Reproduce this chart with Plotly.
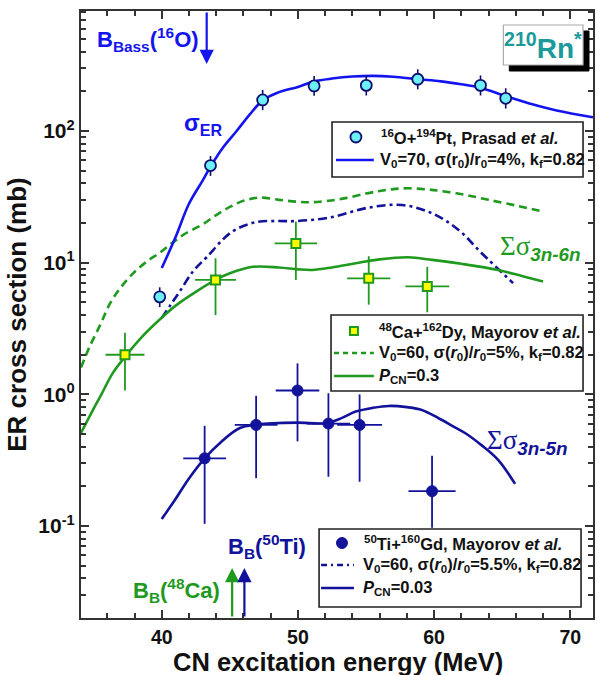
import plotly.graph_objects as go

# ---------------- data ----------------
# 16O+194Pt, Prasad et al. (ER cross section, mb)
prasad_E = [39.85, 43.58, 47.41, 51.19, 55.02, 58.8, 63.41, 65.26]
prasad_s = [5.5, 54.6, 172, 220, 222, 247, 222, 177]
prasad_ep = [1.0, 10, 33, 42, 42, 47, 42, 34]
prasad_em = [0.9, 9, 28, 35, 36, 40, 36, 29]

# 48Ca+162Dy, Mayorov et al.
ca_E = [37.3, 43.95, 49.85, 55.2, 59.5]
ca_s = [2.0, 7.4, 14.0, 7.6, 6.6]
ca_ex = [1.43, 1.5, 1.56, 1.59, 1.61]
ca_ep = [0.94, 3.4, 6.5, 3.6, 2.7]
ca_em = [0.93, 3.4, 6.6, 2.8, 2.4]

# 50Ti+160Gd, Mayorov et al.
ti_E = [43.15, 46.93, 49.97, 52.24, 54.53, 59.85]
ti_s = [0.327, 0.586, 1.07, 0.60, 0.586, 0.184]
ti_ex = [1.57, 1.57, 1.6, 1.6, 1.65, 1.73]
ti_ep = [0.25, 0.39, 0.65, 0.42, 0.414, 0.158]
ti_em = [0.223, 0.355, 0.63, 0.363, 0.369, 0.087]

# calculated curves
er_E = [40, 41, 42, 43, 43.6, 44.5, 45.5, 46.5, 47.4, 48.5, 50, 51.2, 52.5, 54, 55.5,
        57, 58.8, 60.5, 62, 63.4, 65.3, 67, 69, 71.67]
er_s = [9.1, 15.5, 28, 42, 54, 75, 100, 135, 170, 195, 216, 238, 250, 259, 262,
        258, 247, 238, 226, 213, 183, 162, 143, 127]

ca_v_E = [34.07, 34.7, 35.5, 36.2, 37.0, 37.9, 38.9, 39.85, 40.8, 41.8, 43, 44, 45, 46,
          47.2, 48.6, 50, 51, 52.2, 53.5, 55, 56, 57, 58.1, 59.5, 60.5, 62.3, 64, 66, 68]
ca_v_s = [1.6, 2.3, 3.4, 4.9, 6.5, 8.3, 10.2, 11.9, 14.2, 16.8, 19.5, 23, 26.5, 29.5,
          31.2, 30, 29, 28.8, 29.5, 30.9, 33.5, 35, 36.2, 36.7, 36, 35, 32.7, 30, 27.2, 24.4]

ti_v_E = [40, 40.6, 41.3, 42.3, 43.3, 45.1, 46.9, 48.5, 49.85, 52.3, 55.2, 57.65,
          59.85, 61.8, 63.5, 65.8]
ti_v_s = [3.8, 4.7, 6.0, 8.6, 11.0, 17.0, 20.3, 20.7, 20.7, 22, 26.2, 27.4,
          23.7, 17.7, 11.8, 7.0]

ca_p_E = [34.07, 35, 35.5, 36.4, 37.3, 38.5, 39.85, 41, 42.5, 43.95, 45, 46.7, 48.6, 50,
          51.05, 52.5, 54.25, 56, 58.1, 59.85, 62, 64.7, 66.5, 68]
ca_p_s = [0.51, 0.78, 0.97, 1.45, 1.93, 2.7, 3.7, 4.7, 6.0, 7.4, 8.3, 9.3, 9.2, 8.9,
          8.8, 9.2, 9.9, 10.6, 11.0, 10.5, 9.8, 8.8, 7.9, 7.2]

ti_p_E = [40, 41, 42, 43.15, 44.3, 45.7, 47, 48.14, 50, 52.05, 53.2, 54.24, 55.5, 56.68,
          58, 59.1, 60.33, 61.3, 62.3, 63.5, 64.7, 65.95]
ti_p_s = [0.113, 0.16, 0.23, 0.327, 0.43, 0.553, 0.59, 0.604, 0.61, 0.604, 0.66, 0.74,
          0.79, 0.817, 0.80, 0.762, 0.659, 0.58, 0.507, 0.41, 0.318, 0.209]

# barriers (MeV)
bass_O = 43.3
bb_Ca = 45.17
bb_Ti = 46.07

x_ticks = [40, 50, 60, 70]
y_tickvals = [0.1, 1, 10, 100]
y_ticktext = ["<b>10<sup>-1</sup></b>", "<b>10<sup>0</sup></b>", "<b>10<sup>1</sup></b>", "<b>10<sup>2</sup></b>"]
y_minor = [m * 10 ** k for k in (-2, -1, 0, 1, 2) for m in range(2, 10) if m * 10 ** k < 820]

# ---------------- style ----------------
BLUE = "#1414ee"
CYAN = "#6cf0f7"
NAVY = "#12129a"
DNAVY = "#0d0d6e"
GREEN = "#1f9a1f"
TEAL = "#1a9a9a"
AX = "#333333"
FONT = "Liberation Sans, Arial, sans-serif"

W, H = 597, 675
L, R, T, B = 81, 595, 11, 618


def fx(px):
    return (px - L) / (R - L)


def fy(py):
    return (B - py) / (B - T)


fig = go.Figure()

# curves
fig.add_trace(go.Scatter(x=ca_v_E, y=ca_v_s, mode="lines", line=dict(color=GREEN, width=2.6, dash="8px,5px", shape="spline"), showlegend=False))
fig.add_trace(go.Scatter(x=ti_v_E, y=ti_v_s, mode="lines", line=dict(color=NAVY, width=2.6, dash="9px,4px,3px,4px", shape="spline"), showlegend=False))
fig.add_trace(go.Scatter(x=ca_p_E, y=ca_p_s, mode="lines", line=dict(color=GREEN, width=2.6, shape="spline"), showlegend=False))
fig.add_trace(go.Scatter(x=ti_p_E, y=ti_p_s, mode="lines", line=dict(color=NAVY, width=2.6, shape="spline"), showlegend=False))
fig.add_trace(go.Scatter(x=er_E, y=er_s, mode="lines", line=dict(color=BLUE, width=2.6, shape="spline"), showlegend=False))

# data
fig.add_trace(go.Scatter(
    x=ca_E, y=ca_s, mode="markers",
    marker=dict(symbol="square", size=9, color="#ffff00", line=dict(color=GREEN, width=2)),
    error_x=dict(type="data", array=ca_ex, color=GREEN, thickness=1.8, width=0),
    error_y=dict(type="data", array=ca_ep, arrayminus=ca_em, color=GREEN, thickness=1.8, width=0),
    showlegend=False))
fig.add_trace(go.Scatter(
    x=ti_E, y=ti_s, mode="markers",
    marker=dict(symbol="circle", size=11, color=NAVY, line=dict(color=NAVY, width=1)),
    error_x=dict(type="data", array=ti_ex, color=NAVY, thickness=1.8, width=0),
    error_y=dict(type="data", array=ti_ep, arrayminus=ti_em, color=NAVY, thickness=1.8, width=0),
    showlegend=False))
fig.add_trace(go.Scatter(
    x=prasad_E, y=prasad_s, mode="markers",
    marker=dict(symbol="circle", size=11, color=CYAN, line=dict(color=DNAVY, width=1.8)),
    error_y=dict(type="data", array=prasad_ep, arrayminus=prasad_em, color=DNAVY, thickness=1.6, width=0),
    showlegend=False))

shapes = []
annotations = []


def rect(x0, y0, x1, y1, fill="white", line="#222222", lw=1.6):
    shapes.append(dict(type="rect", xref="paper", yref="paper", x0=fx(x0), x1=fx(x1), y0=fy(y1), y1=fy(y0),
                       fillcolor=fill, line=dict(color=line, width=lw), layer="above"))


def seg(x0, x1, y, color, dash="solid", lw=2.4):
    shapes.append(dict(type="line", xref="paper", yref="paper", x0=fx(x0), x1=fx(x1), y0=fy(y), y1=fy(y),
                       line=dict(color=color, width=lw, dash=dash), layer="above"))


def text(px, py, s, size=17, color="#111111", anchor="left"):
    annotations.append(dict(x=fx(px), y=fy(py), xref="paper", yref="paper", text=s, showarrow=False,
                            xanchor=anchor, yanchor="middle", font=dict(family=FONT, size=size, color=color)))


# legend box 1
rect(333, 122, 585, 177)
shapes.append(dict(type="circle", xref="paper", yref="paper", x0=fx(351.5), x1=fx(362.5), y0=fy(142.5), y1=fy(131.5),
                   fillcolor=CYAN, line=dict(color=DNAVY, width=1.8), layer="above"))
text(380, 137, "<b><sup>16</sup>O+<sup>194</sup>Pt, Prasad <i>et al.</i></b>", 16.5)
seg(337, 375, 160, BLUE)
text(379, 160, "<b>V<sub>0</sub>=70, σ(r<sub>0</sub>)/r<sub>0</sub>=4%, k<sub>f</sub>=0.82</b>", 16.5)

# legend box 2
rect(332, 315, 585, 391)
shapes.append(dict(type="rect", xref="paper", yref="paper", x0=fx(351), x1=fx(359), y0=fy(335), y1=fy(327),
                   fillcolor="#ffff00", line=dict(color=GREEN, width=2), layer="above"))
text(378, 331, "<b><sup>48</sup>Ca+<sup>162</sup>Dy, Mayorov <i>et al.</i></b>", 16.5)
seg(335, 375, 353, GREEN, dash="5px,4px")
text(378, 353, "<b>V<sub>0</sub>=60, σ(<i>r</i><sub>0</sub>)/<i>r</i><sub>0</sub>=5%, k<sub>f</sub>=0.82</b>", 16.5)
seg(335, 375, 376, GREEN)
text(378, 376, "<b><i>P</i><sub>CN</sub>=0.3</b>", 16.5)

# legend box 3
rect(320, 529, 583, 607)
shapes.append(dict(type="circle", xref="paper", yref="paper", x0=fx(337.5), x1=fx(348.5), y0=fy(548.5), y1=fy(537.5),
                   fillcolor=NAVY, line=dict(color=NAVY, width=1), layer="above"))
text(363, 543, "<b><sup>50</sup>Ti+<sup>160</sup>Gd, Mayorov <i>et al.</i></b>", 16.5)
seg(322, 355, 565, NAVY, dash="6px,4px,2px,4px")
text(362, 565, "<b>V<sub>0</sub>=60, σ(<i>r</i><sub>0</sub>)/<i>r</i><sub>0</sub>=5.5%, k<sub>f</sub>=0.82</b>", 16.5)
seg(322, 355, 588, NAVY)
text(362, 588, "<b><i>P</i><sub>CN</sub>=0.03</b>", 16.5)

# 210Rn* box with shadow
rect(511, 31, 591, 71, fill="black", line="black", lw=1)
rect(505, 25, 585, 65, fill="white", line="#aaaaaa", lw=1.2)
text(545, 46, "<b><sup>210</sup>Rn<sup>*</sup></b>", 28, TEAL, anchor="center")

# curve labels
text(95, 40, "<b>B<sub>Bass</sub>(<sup>16</sup>O)</b>", 22, BLUE)
text(182, 124, "<b>σ<sub>ER</sub></b>", 23, BLUE)
text(500, 248, "<span style='font-family:Liberation Serif'>Σσ</span><b><i><sub>3n-6n</sub></i></b>", 27, GREEN)
text(487, 442, "<span style='font-family:Liberation Serif'>Σσ</span><b><i><sub>3n-5n</sub></i></b>", 27, NAVY)
text(227, 546, "<b>B<sub>B</sub>(<sup>50</sup>Ti)</b>", 22, NAVY)
text(131, 590, "<b>B<sub>B</sub>(<sup>48</sup>Ca)</b>", 22, GREEN)

# x-axis title (placed just below the tick labels)
text((L + R) / 2 + 1, 662, "<b>CN excitation energy (MeV)</b>", 25.5, "#111111", anchor="center")

# barrier arrows
annotations.append(dict(x=bass_O, y=fy(64), xref="x", yref="paper", ax=0, ay=-(64 - T), text="",
                        showarrow=True, arrowhead=2, arrowsize=1.3, arrowwidth=2.2, arrowcolor=BLUE))
annotations.append(dict(x=bb_Ca, y=fy(568), xref="x", yref="paper", ax=0, ay=(B - 568), text="",
                        showarrow=True, arrowhead=2, arrowsize=1.3, arrowwidth=2.2, arrowcolor=GREEN))
annotations.append(dict(x=bb_Ti, y=fy(568), xref="x", yref="paper", ax=0, ay=(B - 568), text="",
                        showarrow=True, arrowhead=2, arrowsize=1.3, arrowwidth=2.2, arrowcolor=NAVY))

fig.update_layout(
    width=W, height=H,
    margin=dict(l=L, r=W - R, t=T, b=H - B),
    paper_bgcolor="white", plot_bgcolor="white",
    shapes=shapes, annotations=annotations,
    font=dict(family=FONT, color="#111111"),
    xaxis=dict(range=[34.07, 71.67], tickvals=x_ticks, ticktext=[f"<b>{v}</b>" for v in x_ticks],
               ticks="inside", ticklen=8, tickwidth=1.8, tickcolor=AX,
               minor=dict(dtick=2, tick0=34, ticks="inside", ticklen=5, tickwidth=1.5, tickcolor=AX),
               showline=True, linecolor=AX, linewidth=2.2, mirror="allticks", showgrid=False, zeroline=False,
               tickfont=dict(size=19.5, family=FONT, color="#111111")),
    yaxis=dict(type="log", range=[-1.698, 2.911], tickvals=y_tickvals, ticktext=y_ticktext,
               ticks="inside", ticklen=8, tickwidth=1.8, tickcolor=AX,
               minor=dict(tickvals=y_minor, ticks="inside", ticklen=5, tickwidth=1.5, tickcolor=AX),
               showline=True, linecolor=AX, linewidth=2.2, mirror="allticks", showgrid=False, zeroline=False,
               tickfont=dict(size=21, family=FONT, color="#111111"),
               title=dict(text="<b>ER cross section (mb)</b>", font=dict(size=26, family=FONT, color="#111111"), standoff=4)),
)

fig.write_html("out.html")
